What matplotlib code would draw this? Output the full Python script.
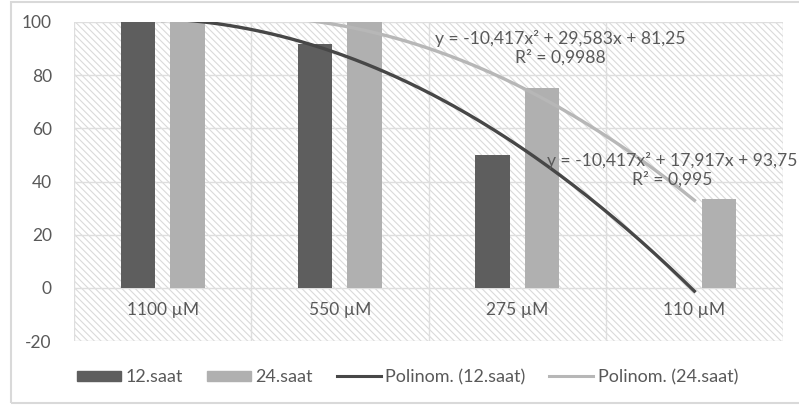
import numpy as np
import matplotlib
matplotlib.use("Agg")
import matplotlib.pyplot as plt
from matplotlib.patches import Rectangle, Patch
from matplotlib.lines import Line2D

plt.rcParams['font.family'] = ['Lato', 'DejaVu Sans']
plt.rcParams['hatch.linewidth'] = 0.8
plt.rcParams['axes.unicode_minus'] = False

# survival data per concentration
categories = ['1100 µM', '550 µM', '275 µM', '110 µM']
saat12 = [100, 91.67, 50, 0]
saat24 = [100, 100, 75, 33.33]

# 2nd order trendline coefficients (a, b, c) and R²
fit12 = [-10.417, 17.917, 93.75]
r2_12 = '0,995'
fit24 = [-10.417, 29.583, 81.25]
r2_24 = '0,9988'

yticks = [-20, 0, 20, 40, 60, 80, 100]

text_col = '#595959'
dark = '#5e5e5e'
light = '#b0b0b0'
grid_col = '#dedede'

W, H = 799, 405
fig = plt.figure(figsize=(W / 100, H / 100), dpi=100)
ax = fig.add_axes([74 / W, 1 - 341 / H, (783 - 74) / W, (341 - 22) / H])

# hatched plot area background
bg = Rectangle((0, 0), 1, 1, transform=ax.transAxes, facecolor='white',
               edgecolor='#dadada', hatch='\\' * 5, linewidth=0, zorder=0)
ax.add_patch(bg)

x = np.arange(1, len(categories) + 1)
bw = 0.195
ax.bar(x - 0.14, saat12, width=bw, color=dark, zorder=3)
ax.bar(x + 0.14, saat24, width=bw, color=light, zorder=3)

# trendlines
xs = np.linspace(1, 4, 200)
def poly(c, t):
    return c[0] * t ** 2 + c[1] * t + c[2]
ax.plot(xs, poly(fit24, xs), color='#b7b7b7', lw=2.4, zorder=4)
ax.plot(xs, poly(fit12, xs), color='#474747', lw=2.4, zorder=4)

def fmt(v):
    return ('%g' % v).replace('.', ',')

def eq_label(c, r2):
    return ('y = %sx² + %sx + %s\nR² = %s'
            % (fmt(c[0]), fmt(c[1]), fmt(c[2]), r2))

ax.text(3.242, 90.2, eq_label(fit24, r2_24), ha='center', va='center',
        fontsize=12.6, color=text_col, linespacing=1.2, zorder=5)
ax.text(3.874, 44.4, eq_label(fit12, r2_12), ha='center', va='center',
        fontsize=12.6, color=text_col, linespacing=1.2, zorder=5,
        clip_on=False)

ax.set_xlim(0.5, 4.5)
ax.set_ylim(-20, 100)
ax.set_yticks(yticks)
ax.tick_params(axis='y', length=0, pad=16, labelsize=12.5, labelcolor=text_col)
ax.set_xticks([])

# gridlines
for yv in yticks:
    ax.axhline(yv, color=grid_col, lw=1, zorder=1)
for xv in [0.5, 1.5, 2.5, 3.5, 4.5]:
    ax.axvline(xv, color=grid_col, lw=1, zorder=1)
for s in ax.spines.values():
    s.set_visible(False)

# category labels sit just under the zero line
for xi, lab in zip(x, categories):
    ax.text(xi, -8.3, lab, ha='center', va='center', fontsize=12.5,
            color=text_col, zorder=5)

# outer chart border
fig.patches.append(Rectangle((11 / W, 1 - 403 / H), 1, (403 - 2) / H,
                             transform=fig.transFigure, fill=False,
                             edgecolor='#d9d9d9', lw=1.5))

handles = [Patch(color=dark), Patch(color=light),
           Line2D([], [], color='#474747', lw=2.2),
           Line2D([], [], color='#b7b7b7', lw=2.2)]
labels = ['12.saat', '24.saat', 'Polinom. (12.saat)', 'Polinom. (24.saat)']
leg = fig.legend(handles, labels, loc='center left', ncol=4,
                 bbox_to_anchor=(70 / W, 1 - 377 / H), frameon=False,
                 fontsize=13, handlelength=2.45, handleheight=0.5,
                 handletextpad=0.25, columnspacing=1.3, borderaxespad=0)
for t in leg.get_texts():
    t.set_color(text_col)

fig.savefig('out.png', dpi=100)
